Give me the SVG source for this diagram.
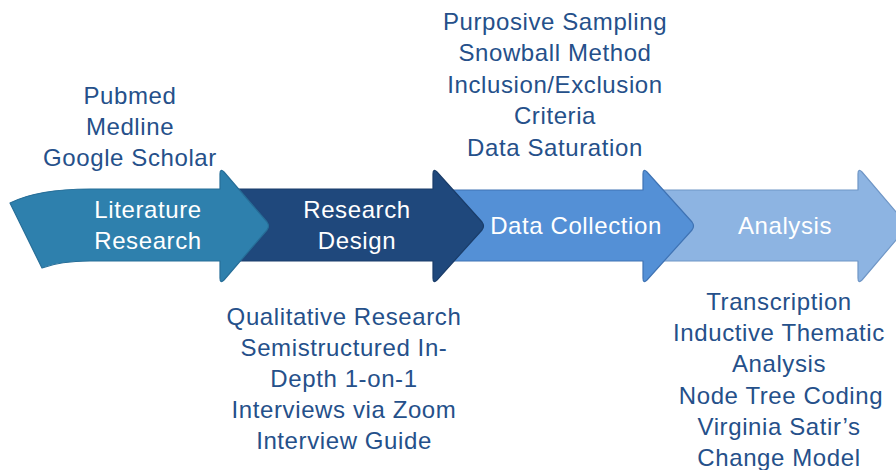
<svg xmlns="http://www.w3.org/2000/svg" width="896" height="470" viewBox="0 0 896 470">
  <style>
    .lbl { font-family: "Liberation Sans", Arial, sans-serif; font-size: 24px; letter-spacing: 0.6px; text-anchor: middle; }
    .in { fill: #ffffff; }
    .note { fill: #25508a; }
    .arrow { stroke-width: 1.2; stroke-linejoin: round; }
  </style>
  <rect width="896" height="470" fill="#ffffff"/>

  <!-- stage arrows, drawn back to front -->
  <g id="analysis">
    <path class="arrow" fill="#8db4e2" stroke="#6f96c6" d="M650,190 L858,190 L858,174 Q858,168 862,172 L908,226 L862,280 Q858,284 858,278 L858,261 L650,261 Z"/>
    <text class="lbl in" x="785" y="234">Analysis</text>
  </g>
  <g id="data-collection">
    <path class="arrow" fill="#5490d6" stroke="#3f73b4" d="M450,190 L643,190 L643,174 Q643,168 647,172 L692,222 Q695,226 692,230 L647,280 Q643,284 643,278 L643,261 L450,261 Z"/>
    <text class="lbl in" x="576" y="234">Data Collection</text>
  </g>
  <g id="research-design">
    <path class="arrow" fill="#1f487c" stroke="#1a3d6a" d="M235,189 L433,189 L433,174 Q433,168 437,172 L482,222 Q485,226 482,230 L437,280 Q433,284 433,278 L433,261 L235,261 Z"/>
    <text class="lbl in" x="357" y="218">Research</text>
    <text class="lbl in" x="357" y="249">Design</text>
  </g>
  <g id="literature-research">
    <path class="arrow" fill="#2e80ad" stroke="#276e98" d="M10,203 C30,193 55,189 90,189 L220,189 L220,174 Q220,168 224,172 L267,222 Q270,226 267,230 L224,280 Q220,284 220,278 L220,261 L90,261 C70,261 55,263 42,268 Z"/>
    <text class="lbl in" x="148" y="218">Literature</text>
    <text class="lbl in" x="148" y="249">Research</text>
  </g>

  <!-- notes above and below each stage -->
  <g id="sources">
    <text class="lbl note" x="130" y="104">Pubmed</text>
    <text class="lbl note" x="130" y="135">Medline</text>
    <text class="lbl note" x="130" y="166">Google Scholar</text>
  </g>
  <g id="sampling">
    <text class="lbl note" x="555" y="30">Purposive Sampling</text>
    <text class="lbl note" x="555" y="61">Snowball Method</text>
    <text class="lbl note" x="555" y="93">Inclusion/Exclusion</text>
    <text class="lbl note" x="555" y="124">Criteria</text>
    <text class="lbl note" x="555" y="156">Data Saturation</text>
  </g>
  <g id="design-notes">
    <text class="lbl note" x="344" y="325">Qualitative Research</text>
    <text class="lbl note" x="344" y="356">Semistructured In-</text>
    <text class="lbl note" x="344" y="387">Depth 1-on-1</text>
    <text class="lbl note" x="344" y="418">Interviews via Zoom</text>
    <text class="lbl note" x="344" y="449">Interview Guide</text>
  </g>
  <g id="analysis-notes">
    <text class="lbl note" x="779" y="310">Transcription</text>
    <text class="lbl note" x="779" y="341">Inductive Thematic</text>
    <text class="lbl note" x="779" y="372">Analysis</text>
    <text class="lbl note" x="781" y="404">Node Tree Coding</text>
    <text class="lbl note" x="779" y="435">Virginia Satir’s</text>
    <text class="lbl note" x="779" y="466">Change Model</text>
  </g>
  <g id="connectors"></g>
</svg>
